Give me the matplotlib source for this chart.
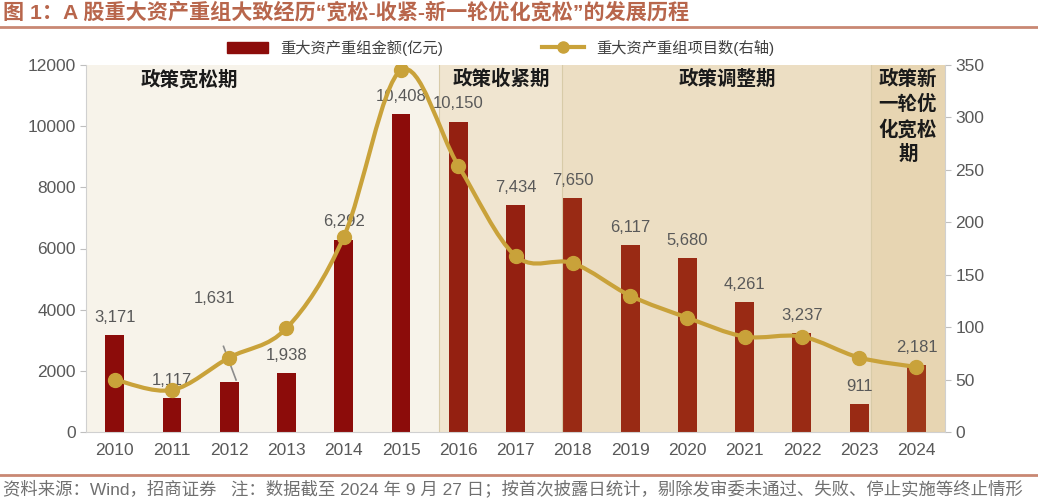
import numpy as np
import matplotlib.pyplot as plt
from matplotlib.path import Path
from matplotlib.patches import PathPatch, Patch
from matplotlib.lines import Line2D

plt.rcParams['font.family'] = ['Liberation Sans', 'Noto Sans CJK SC']

years = ['2010', '2011', '2012', '2013', '2014', '2015', '2016', '2017',
         '2018', '2019', '2020', '2021', '2022', '2023', '2024']
amount = [3171, 1117, 1631, 1938, 6292, 10408, 10150, 7434, 7650, 6117,
          5680, 4261, 3237, 911, 2181]
count = [50, 40, 71, 99, 186, 345, 254, 168, 161, 130, 109, 91, 91, 71, 62]

periods = ['政策宽松期', '政策收紧期', '政策调整期', '政策新\n一轮优\n化宽松\n期']
period_edges = [-0.5, 5.66, 7.81, 13.2, 14.5]

bar_color = '#8C0C0A'
line_color = '#C9A23A'
grey = '#595959'

fig = plt.figure(figsize=(10.38, 5), dpi=100)
ax = fig.add_axes([0.0829, 0.136, 0.8276, 0.734])
ax2 = ax.twinx()

x = np.arange(len(years))
ax.set_facecolor('#F7F3EA')
ax.bar(x, amount, width=0.33, color=bar_color, zorder=2)

# tinted period overlays (drawn over the bars, like the original)
alphas = [0.0, 0.15, 0.22, 0.32]
for i in range(4):
    if alphas[i] > 0:
        ax.axvspan(period_edges[i], period_edges[i + 1], color='#C8963C',
                   alpha=alphas[i], lw=0, zorder=3)
    if i > 0:
        ax.axvline(period_edges[i], color='#D8CBA8', lw=0.8, zorder=3)

label_x = [1.3, 6.76, 10.7, 13.85]
for i, name in enumerate(periods):
    ax.text(label_x[i], 11850, name, ha='center', va='top', fontsize=14,
            fontweight='bold', color='#1A1A1A', linespacing=1.38,
            family=['Noto Sans CJK SC'], zorder=5)

# value labels
for i, v in enumerate(amount):
    if years[i] == '2012':
        continue
    ax.text(x[i], v + 330, f'{v:,}', ha='center', va='bottom',
            fontsize=12, color=grey, zorder=6)
ax.text(1.75, 4120, f'{amount[2]:,}', ha='center', va='bottom', fontsize=12,
        color=grey, zorder=6)
ax.plot([1.9, 2.12], [2800, 1700], color='#8C8C8C', lw=1.2, zorder=6)

ax.set_xlim(-0.5, 14.5)
ax.set_ylim(0, 12000)
ax.set_yticks(range(0, 12001, 2000))
ax.set_xticks(x)
ax.set_xticklabels(years)

# smooth (Excel-like) curve via cubic Bezier segments
pts = np.column_stack([x, count]).astype(float)
ext = np.vstack([pts[0], pts, pts[-1]])
verts = [tuple(pts[0])]
codes = [Path.MOVETO]
for i in range(len(pts) - 1):
    p0, p1, p2, p3 = ext[i], ext[i + 1], ext[i + 2], ext[i + 3]
    c1 = p1 + (p2 - p0) / 6
    c2 = p2 - (p3 - p1) / 6
    verts += [tuple(c1), tuple(c2), tuple(p2)]
    codes += [Path.CURVE4] * 3
ax2.add_patch(PathPatch(Path(verts, codes), fc='none', ec=line_color,
                        lw=3, zorder=4, capstyle='round'))
ax2.plot(x, count, 'o', color=line_color, ms=10, zorder=5)
ax2.set_ylim(0, 350)
ax2.set_yticks(range(0, 351, 50))

for a in (ax, ax2):
    for s in a.spines.values():
        s.set_visible(False)
    a.tick_params(colors='#BFBFBF', labelcolor=grey, labelsize=12.5,
                  length=4, width=0.8)
ax.spines['left'].set_visible(True)
ax.spines['left'].set_color('#D0D0D0')
ax.spines['bottom'].set_visible(True)
ax.spines['bottom'].set_color('#D0D0D0')
ax2.spines['right'].set_visible(True)
ax2.spines['right'].set_color('#D0D0D0')
ax.tick_params(axis='x', length=0, pad=8)

handles = [Patch(color=bar_color),
           Line2D([], [], color=line_color, lw=3, marker='o', ms=8)]
fig.legend(handles, ['重大资产重组金额(亿元)', '重大资产重组项目数(右轴)'],
           loc='center', bbox_to_anchor=(0.482, 0.905), ncol=2, frameon=False,
           fontsize=11, columnspacing=6.5, handlelength=2.7,
           labelcolor='#404040')

fig.text(0.003, 0.975, '图 1：A 股重大资产重组大致经历“宽松-收紧-新一轮优化宽松”的发展历程',
         ha='left', va='center', fontsize=15.2, fontweight='bold',
         color='#B8664C')
fig.add_artist(Line2D([0, 1], [0.946, 0.946], color='#C98873', lw=2))
fig.add_artist(Line2D([0, 1], [0.05, 0.05], color='#C98873', lw=2))
fig.text(0.003, 0.024,
         '资料来源：Wind，招商证券   注：数据截至 2024 年 9 月 27 日；按首次披露日统计，剔除发审委未通过、失败、停止实施等终止情形',
         ha='left', va='center', fontsize=12.5, color='#707070')

fig.savefig('out.png', dpi=100)
